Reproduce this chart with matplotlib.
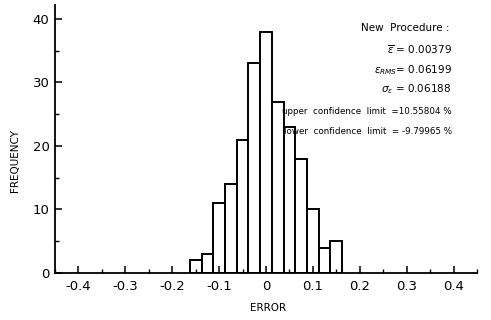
import numpy as np
import matplotlib.pyplot as plt
from matplotlib.ticker import MultipleLocator

# histogram of errors (bin centres and counts)
bin_centers = [-0.15, -0.125, -0.1, -0.075, -0.05, -0.025, 0.0,
               0.025, 0.05, 0.075, 0.1, 0.125, 0.15]
counts = [2, 3, 11, 14, 21, 33, 38, 27, 23, 18, 10, 4, 5]
bin_width = 0.025

x_ticks = [-0.4, -0.3, -0.2, -0.1, 0.0, 0.1, 0.2, 0.3, 0.4]
x_tick_labels = ['-0.4', '-0.3', '-0.2', '-0.1', '0', '0.1', '0.2', '0.3', '0.4']
y_ticks = [0, 10, 20, 30, 40]

stat_lines = [
    r'$\overline{\epsilon}$ = 0.00379',
    r'$\epsilon_{RMS}$= 0.06199',
    r'$\sigma_{\epsilon}$ = 0.06188',
    'upper  confidence  limit  =10.55804 %',
    'lower  confidence  limit  = -9.79965 %',
]

plt.rcParams['font.family'] = ['DejaVu Sans']
plt.rcParams['mathtext.fontset'] = 'dejavusans'

fig = plt.figure(figsize=(4.91, 3.2), dpi=100)
ax = fig.add_axes([55 / 491, 1 - 273 / 320, 422 / 491, 268 / 320])

ax.bar(bin_centers, counts, width=bin_width, color='white',
       edgecolor='black', linewidth=1.4)

ax.set_xlim(-0.45, 0.45)
ax.set_ylim(0, 42.2)
ax.set_xticks(x_ticks)
ax.set_xticklabels(x_tick_labels)
ax.set_yticks(y_ticks)
ax.xaxis.set_minor_locator(MultipleLocator(0.05))
ax.yaxis.set_minor_locator(MultipleLocator(5))
ax.tick_params(which='major', direction='in', length=5, width=1.1,
               labelsize=9.5, pad=5)
ax.tick_params(which='minor', direction='in', length=3, width=1.0)
ax.tick_params(axis='y', pad=4)

for side in ['top', 'right']:
    ax.spines[side].set_visible(False)
for side in ['left', 'bottom']:
    ax.spines[side].set_linewidth(1.3)

fig.text(15 / 491, 1 - 160 / 320, 'FREQUENCY', rotation=90,
         ha='center', va='center', fontsize=7.5)
fig.text(268 / 491, 1 - 308 / 320, 'ERROR', ha='center', va='center',
         fontsize=7.5)

ax.text(0.83, 0.914, 'New  Procedure :', transform=ax.transAxes,
        ha='center', va='center', fontsize=7.5)
y_positions = [0.832, 0.758, 0.685, 0.604, 0.528]
for line, ypos in zip(stat_lines, y_positions):
    ax.text(0.94, ypos, line, transform=ax.transAxes, ha='right',
            va='center', fontsize=6.3 if 'limit' in line else 7.5)

fig.savefig('out.png', dpi=100)
